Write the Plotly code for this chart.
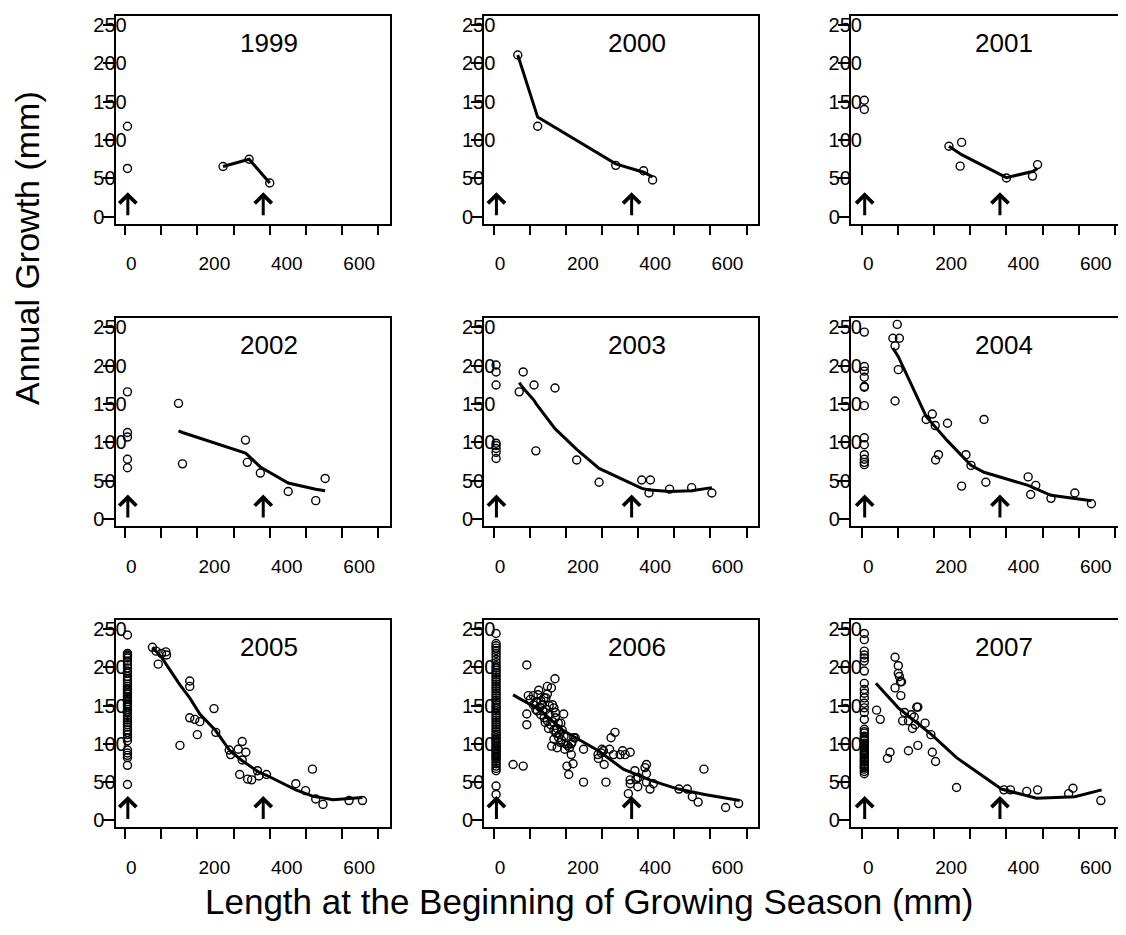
import plotly.graph_objects as go

# ---------------- data ----------------
years = [1999, 2000, 2001, 2002, 2003, 2004, 2005, 2006, 2007]

age0_length = 7            # plotted length of age-0 fish
arrow_x = [8, 382]         # arrow positions (mm)
arrow_top = 32             # arrow tip (mm of growth)

x_ticks = [0, 100, 200, 300, 400, 500, 600, 700]
x_ticktext = ["0\u00a0\u00a0\u00a0\u00a0", "", "200", "", "400", "", "600", ""]
y_ticks = [0, 50, 100, 150, 200, 250]
y_ticktext = ["0\u00a0\u00a0\u00a0\u00a0", "50\u00a0\u00a0", "100", "150", "200", "250"]

# 1999
age0_1999 = [118, 63]
x_1999 = [271, 343, 400]
y_1999 = [65.6, 75, 44]
fx_1999 = [271, 343, 400]
fy_1999 = [65.6, 75, 44]

# 2000
age0_2000 = []
x_2000 = [67, 122, 338, 415, 440]
y_2000 = [211, 118, 67, 60, 48]
fx_2000 = [67, 122, 338, 415, 440]
fy_2000 = [211, 130, 69, 58, 52]

# 2001
age0_2001 = [152, 140]
x_2001 = [241, 276, 272, 400, 472, 486]
y_2001 = [92, 97, 66, 50.5, 53, 68]
fx_2001 = [241, 272, 276, 400, 472, 486]
fy_2001 = [92, 82, 81, 51, 59, 63]

# 2002
age0_2002 = [166, 113, 107, 78, 67]
x_2002 = [148, 159, 333, 338, 374, 451, 527, 553]
y_2002 = [151, 72, 103, 74, 60, 36, 24, 53]
fx_2002 = [148, 159, 333, 338, 374, 451, 527, 553]
fy_2002 = [115, 113, 86, 84, 68, 47, 39, 37]

# 2003
age0_2003 = [201, 192, 175, 99, 96, 92, 87, 79]
x_2003 = [71, 82, 112, 117, 170, 230, 292, 410, 434, 430, 487, 548, 604]
y_2003 = [166, 192, 175, 89, 171, 77, 48, 51, 51, 34, 39, 41, 34]
fx_2003 = [71, 82, 112, 117, 170, 230, 292, 410, 430, 434, 487, 548, 604]
fy_2003 = [178, 171, 155, 151, 118, 91, 66, 40, 38, 38, 36, 37, 41]

# 2004
age0_2004 = [244, 199, 193, 185, 173, 172, 148, 106, 97, 84, 78, 74, 71]
x_2004 = [98, 86, 104, 92, 101, 92, 178, 195, 203, 237, 204, 212, 276, 288,
          302, 338, 343, 460, 467, 481, 523, 589, 635]
y_2004 = [254, 236, 236, 226, 195, 154, 130, 137, 122, 125, 77, 84, 43, 84,
          70, 130, 48, 55, 32, 44, 27, 34, 20]
fx_2004 = [86, 101, 178, 203, 237, 302, 338, 460, 523, 635]
fy_2004 = [223, 212, 134, 121, 102, 70, 61, 44, 31, 24]

# 2005
age0_2005 = [242, 218, 216, 214, 212, 208, 203, 199, 195, 192, 188, 185, 182,
             178, 175, 172, 170, 167, 165, 162, 160, 158, 155, 152, 150, 148,
             145, 142, 140, 137, 134, 131, 128, 125, 122, 118, 115, 112, 108,
             104, 92, 88, 85, 82, 72, 47]
x_2005 = [76, 86, 92, 101, 113, 115, 152, 179, 179, 179, 193, 207, 200, 246,
          251, 288, 292, 313, 324, 334, 324, 317, 339, 350, 366, 370, 391, 472,
          499, 518, 527, 547, 619, 656]
y_2005 = [226, 221, 204, 218, 220, 216, 98, 182, 175, 134, 132, 129, 112, 146,
          115, 92, 86, 93, 103, 89, 79, 60, 54, 53, 65, 58, 60, 48, 39, 67, 28,
          21, 26, 26]
fx_2005 = [76, 101, 115, 152, 179, 207, 251, 290, 324, 370, 391, 472, 520, 575, 656]
fy_2005 = [226, 213, 203, 177, 160, 139, 117, 91, 78, 63, 59, 40, 31.5, 27, 30]

# 2006
age0_2006 = [244, 231, 228, 225, 222, 218, 214, 210, 206, 202, 199, 196, 193,
             190, 187, 184, 181, 178, 175, 172, 169, 166, 163, 160, 157, 154,
             151, 148, 146, 143, 140, 137, 134, 131, 128, 125, 122, 119, 116,
             113, 111, 108, 106, 104, 102, 100, 98, 96, 94, 92, 90, 88, 86, 84,
             82, 80, 77, 74, 71, 68, 65, 45, 34]
x_2006 = [54, 82, 92, 92, 92, 96, 110, 123, 131, 145, 149, 160, 170, 110, 117,
          121, 131, 135, 140, 145, 149, 154, 158, 163, 163, 167, 171, 173, 179,
          161, 167, 176, 180, 185, 190, 194, 197, 203, 208, 215, 220, 217, 226,
          249, 249, 289, 300, 304, 306, 311, 321, 325, 336, 332, 350, 357, 364,
          378, 373, 378, 378, 391, 394, 399, 400, 419, 423, 423, 423, 433, 442,
          513, 536, 550, 566, 582, 642, 678,
          149, 167, 171, 186, 205, 215, 222, 290, 298, 154, 140, 128, 136, 143,
          152, 176, 183, 188, 195, 200, 210, 118, 102, 125]
y_2006 = [73, 71, 203, 139, 125, 163, 163, 164, 156, 160, 165, 173, 185, 151,
          145, 143, 138, 151, 134, 145, 130, 138, 125, 151, 129, 118, 134, 114,
          127, 97, 106, 95, 108, 102, 118, 139, 93, 71, 60, 86, 74, 102, 108,
          93, 50, 86, 93, 91, 73, 50, 93, 108, 115, 86, 86, 91, 86, 89, 35, 53,
          48, 65, 54, 44, 56, 69, 73, 61, 50, 41, 48, 41, 41, 31, 24, 67, 17,
          22,
          175, 147, 141, 127, 98, 100, 108, 81, 88, 150, 160, 148, 143, 128,
          120, 120, 112, 105, 110, 100, 95, 155, 158, 170]
fx_2006 = [54, 126, 194, 290, 359, 437, 511, 584, 681]
fy_2006 = [164, 145, 117, 91, 67, 52, 41, 34, 26]

# 2007
age0_2007 = [244, 236, 221, 216, 212, 208, 195, 179, 171, 166, 160, 153, 147,
             141, 132, 119, 116, 114, 110, 108, 106, 104, 101, 99, 97, 95, 93,
             91, 89, 87, 85, 82, 80, 78, 76, 73, 71, 69, 67, 64, 61]
x_2007 = [41, 51, 71, 78, 92, 101, 101, 104, 107, 110, 92, 108, 118, 113, 129,
          145, 152, 155, 140, 155, 175, 191, 195, 204, 262, 393, 411, 456, 486,
          572, 584, 661, 129, 137, 148]
y_2007 = [144, 132, 81, 89, 213, 202, 192, 188, 181, 181, 173, 163, 141, 130,
          91, 135, 148, 148, 120, 98, 127, 112, 89, 77, 43, 40, 40, 38, 40, 35,
          42, 26, 130, 138, 125]
fx_2007 = [39, 101, 193, 262, 386, 483, 589, 663]
fy_2007 = [179, 147, 112, 82, 41, 29, 31, 40]

panels = {
    1999: (age0_1999, x_1999, y_1999, fx_1999, fy_1999),
    2000: (age0_2000, x_2000, y_2000, fx_2000, fy_2000),
    2001: (age0_2001, x_2001, y_2001, fx_2001, fy_2001),
    2002: (age0_2002, x_2002, y_2002, fx_2002, fy_2002),
    2003: (age0_2003, x_2003, y_2003, fx_2003, fy_2003),
    2004: (age0_2004, x_2004, y_2004, fx_2004, fy_2004),
    2005: (age0_2005, x_2005, y_2005, fx_2005, fy_2005),
    2006: (age0_2006, x_2006, y_2006, fx_2006, fy_2006),
    2007: (age0_2007, x_2007, y_2007, fx_2007, fy_2007),
}

# ---------------- layout geometry ----------------
# page is rendered with an 8px body margin, so the figure is 8px smaller
OFF = 8
W, H = 1126 - OFF, 935 - OFF
col_px = [(115.7, 391.0), (485.0, 759.3), (852.3, 1126.0)]
row_px = [(14.0, 223.0), (318.3, 527.3), (621.7, 830.7)]
col_xrange = [[-26, 733], [-26, 731.5], [-30.4, 725]]
yrange = [-9, 262]

FONT = "Liberation Sans, Arial, sans-serif"

fig = go.Figure()
layout = dict(
    width=W, height=H,
    margin=dict(l=0, r=0, t=0, b=0),
    paper_bgcolor="white", plot_bgcolor="white",
    showlegend=False,
    font=dict(family=FONT, color="black"),
)
annotations = []

marker_style = dict(symbol="circle-open", size=8, color="black",
                    line=dict(width=1.4, color="black"))


def px_x(p):
    return (p - OFF) / W


def px_y(p):
    return 1 - (p - OFF) / H


for i, yr in enumerate(years):
    r, c = divmod(i, 3)
    k = i + 1
    xa = "x" if k == 1 else f"x{k}"
    ya = "y" if k == 1 else f"y{k}"
    age0, xs, ys, fxs, fys = panels[yr]

    fig.add_trace(go.Scatter(x=[age0_length] * len(age0), y=age0, mode="markers",
                             marker=marker_style, xaxis=xa, yaxis=ya,
                             cliponaxis=False, hoverinfo="skip"))
    fig.add_trace(go.Scatter(x=xs, y=ys, mode="markers", marker=marker_style,
                             xaxis=xa, yaxis=ya, cliponaxis=False))
    fig.add_trace(go.Scatter(x=fxs, y=fys, mode="lines",
                             line=dict(color="black", width=3),
                             xaxis=xa, yaxis=ya))

    x0, x1 = col_px[c]
    t0, t1 = row_px[r]
    layout[f"xaxis{'' if k == 1 else k}"] = dict(
        domain=[px_x(x0), min(1.0, px_x(x1))], range=col_xrange[c], anchor=ya,
        showgrid=False, zeroline=False,
        showline=True, mirror=True, linecolor="black", linewidth=1.6,
        ticks="outside", ticklen=10, tickwidth=1.5, tickcolor="black",
        tickmode="array", tickvals=x_ticks, ticktext=x_ticktext,
        ticklabelshift=17, ticklabelstandoff=12,
        tickfont=dict(size=19, family=FONT, color="black"),
    )
    layout[f"yaxis{'' if k == 1 else k}"] = dict(
        domain=[px_y(t1), px_y(t0)], range=yrange, anchor=xa,
        showgrid=False, zeroline=False,
        showline=True, mirror=True, linecolor="black", linewidth=1.6,
        ticks="outside", ticklen=11, tickwidth=1.5, tickcolor="black",
        tickmode="array", tickvals=y_ticks, ticktext=y_ticktext,
        ticklabelstandoff=-28,
        tickfont=dict(size=20, family=FONT, color="black"),
    )

    annotations.append(dict(text=str(yr), xref=f"{xa} domain", yref=f"{ya} domain",
                            x=0.56, y=0.87, xanchor="center", yanchor="middle",
                            showarrow=False, font=dict(size=26, family=FONT)))
    for ax_val in arrow_x:
        annotations.append(dict(text="", xref=xa, yref=ya, axref=xa, ayref=ya,
                                x=ax_val, y=arrow_top, ax=ax_val, ay=0,
                                showarrow=True, arrowhead=4, arrowsize=1.1,
                                arrowwidth=3, arrowcolor="black"))

annotations.append(dict(text="Annual Growth (mm)", xref="paper", yref="paper",
                        x=px_x(27.5), y=px_y(247), textangle=-90,
                        xanchor="center", yanchor="middle", showarrow=False,
                        font=dict(size=34, family=FONT)))
annotations.append(dict(text="Length at the Beginning of Growing Season (mm)",
                        xref="paper", yref="paper", x=px_x(591), y=px_y(905),
                        xanchor="center", yanchor="middle", showarrow=False,
                        font=dict(size=35, family=FONT)))

layout["annotations"] = annotations
fig.update_layout(**layout)
fig.write_html("out.html")
